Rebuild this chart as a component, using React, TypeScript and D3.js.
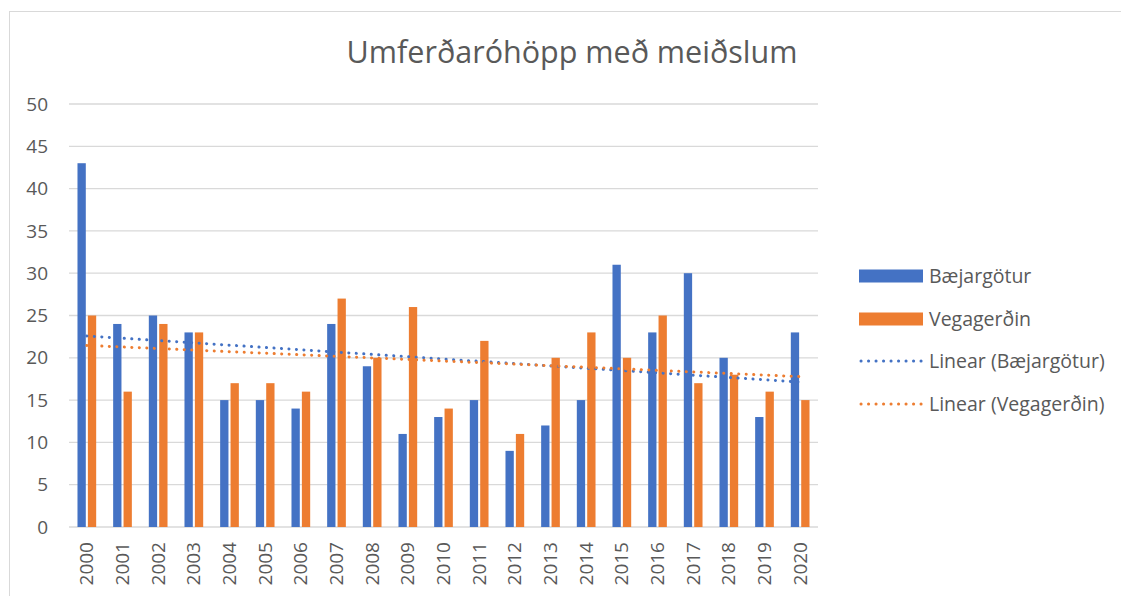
import React from 'react';
import * as d3 from 'd3';

const years = ['2000', '2001', '2002', '2003', '2004', '2005', '2006', '2007', '2008', '2009', '2010',
  '2011', '2012', '2013', '2014', '2015', '2016', '2017', '2018', '2019', '2020'];
const baejargotur = [43, 24, 25, 23, 15, 15, 14, 24, 19, 11, 13, 15, 9, 12, 15, 31, 23, 30, 20, 13, 23];
const vegagerdin = [25, 16, 24, 23, 17, 17, 16, 27, 20, 26, 14, 22, 11, 20, 23, 20, 25, 17, 18, 16, 15];
const yTicks = [0, 5, 10, 15, 20, 25, 30, 35, 40, 45, 50];
const seriesNames = ['Bæjargötur', 'Vegagerðin'];
const title = 'Umferðaróhöpp með meiðslum';

const W = 1121;
const H = 596;
const plot = { left: 69, right: 818, top: 104, bottom: 527 };
const blue = '#4472C4';
const orange = '#ED7D31';
const textColor = '#595959';
const gridColor = '#D9D9D9';
const font = '"Open Sans", sans-serif';

// least squares fit over category index 1..n, like Excel's linear trendline
function linearFit(values: number[]) {
  const xs = values.map((_, i) => i + 1);
  const mx = d3.mean(xs)!;
  const my = d3.mean(values)!;
  const sxy = d3.sum(xs, (x, i) => (x - mx) * (values[i] - my));
  const sxx = d3.sum(xs, (x) => (x - mx) ** 2);
  const slope = sxy / sxx;
  return xs.map((x) => my + slope * (x - mx));
}

export default function App() {
  const x = d3.scaleBand<string>().domain(years).range([plot.left, plot.right]);
  const y = d3.scaleLinear().domain([0, 50]).range([plot.bottom, plot.top]);
  const band = x.bandwidth();
  const barW = band * 0.233;
  const gap = barW * 0.25;
  const groupW = barW * 2 + gap;

  const trendB = linearFit(baejargotur);
  const trendV = linearFit(vegagerdin);
  const line = d3.line<number>()
    .x((_, i) => x(years[i])! + band / 2)
    .y((d) => y(d));

  const dotted = { strokeWidth: 3, strokeDasharray: '0.1 7.4', strokeLinecap: 'round' as const, fill: 'none' };

  const legendY = [276, 319, 361, 404];

  return (
    <svg width={W} height={H} style={{ position: 'absolute', left: 0, top: 0, background: '#fff' }}>
      <rect x={9.5} y={11.5} width={W + 20} height={H + 20} fill="#fff" stroke="#D9D9D9" strokeWidth={1} />

      <text x={572} y={63} textAnchor="middle" fontFamily={font} fontSize={30.5} fill={textColor}>{title}</text>

      {/* gridlines and y axis labels */}
      {yTicks.map((t) => (
        <g key={t}>
          <line x1={plot.left} x2={plot.right} y1={y(t)} y2={y(t)} stroke={gridColor} strokeWidth={1.3} />
          <text x={48} y={y(t)} dy="0.35em" textAnchor="end" fontFamily={font} fontSize={19} fill={textColor}>{t}</text>
        </g>
      ))}

      {/* bars */}
      {years.map((yr, i) => {
        const x0 = x(yr)! + (band - groupW) / 2;
        return (
          <g key={yr}>
            <rect x={x0} y={y(baejargotur[i])} width={barW} height={y(0) - y(baejargotur[i])} fill={blue} />
            <rect x={x0 + barW + gap} y={y(vegagerdin[i])} width={barW} height={y(0) - y(vegagerdin[i])} fill={orange} />
          </g>
        );
      })}

      {/* trendlines */}
      <path d={line(trendB)!} stroke={blue} {...dotted} />
      <path d={line(trendV)!} stroke={orange} {...dotted} />

      {/* x axis labels */}
      {years.map((yr) => (
        <text key={yr} transform={`translate(${x(yr)! + band / 2},542) rotate(-90)`} dy="0.35em" textAnchor="end"
          fontFamily={font} fontSize={19} fill={textColor}>{yr}</text>
      ))}

      {/* legend */}
      <rect x={859} y={legendY[0] - 6.5} width={64} height={13} fill={blue} />
      <rect x={859} y={legendY[1] - 6.5} width={64} height={13} fill={orange} />
      <line x1={861} x2={922} y1={legendY[2]} y2={legendY[2]} stroke={blue} {...dotted} />
      <line x1={861} x2={922} y1={legendY[3]} y2={legendY[3]} stroke={orange} {...dotted} />
      {[seriesNames[0], seriesNames[1], `Linear (${seriesNames[0]})`, `Linear (${seriesNames[1]})`].map((name, i) => (
        <text key={name} x={929} y={legendY[i]} dy="0.35em" fontFamily={font} fontSize={19.5} fill={textColor}>{name}</text>
      ))}
    </svg>
  );
}
